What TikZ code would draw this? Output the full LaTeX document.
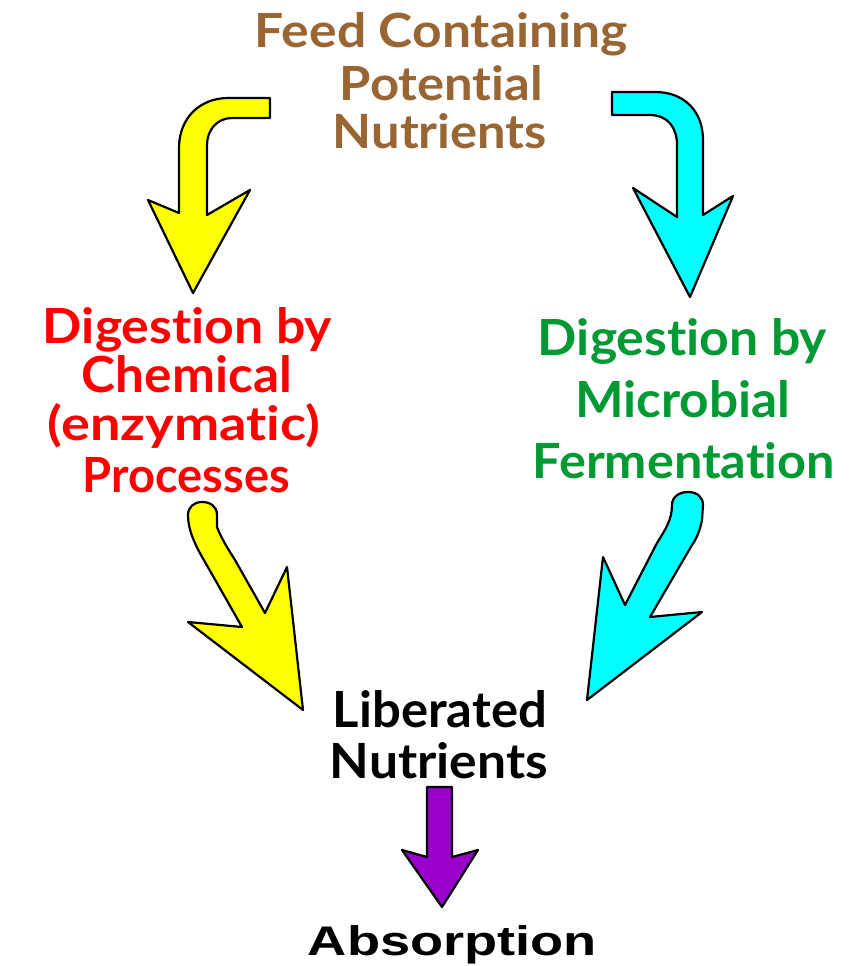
\documentclass[tikz,border=0pt]{standalone}
\usepackage{fontspec}
\setmainfont{Lato}[Ligatures={NoCommon}]
\newfontfamily\blackfont{Liberation Sans}
\usepackage{graphicx}
\definecolor{brownT}{HTML}{996633}
\definecolor{greenT}{HTML}{009933}
\definecolor{purp}{HTML}{9900CC}
\definecolor{yel}{HTML}{FFFF00}
\definecolor{cya}{HTML}{00FFFF}
\newcommand{\fitt}[3]{\resizebox{#1pt}{#2pt}{#3}}
\begin{document}
\begin{tikzpicture}[x=1pt,y=-1pt,
  txt/.style={inner sep=0pt, outer sep=0pt, anchor=base, font=\bfseries},
  blockarrow/.style={draw=black, line width=2.2pt, line join=round}]
\useasboundingbox[fill=white] (0,0) rectangle (864,966);

% ---------- texts ----------
\node[txt, text=brownT] (feedA) at (441.5,48) {\fitt{373}{35}{Feed Containing}};
\node[txt, text=brownT] (feedB) at (441.5,100) {\fitt{203}{35}{Potential}};
\node[txt, text=brownT] (feedC) at (440,148) {\fitt{214}{35}{Nutrients}};

\node[txt, text=red] (chemA) at (187.5,343) {\fitt{289}{36}{Digestion by}};
\node[txt, text=red] (chemB) at (187,392) {\fitt{210}{37}{Chemical}};
\node[txt, text=red] (chemC) at (184,440) {\fitt{272}{37}{(enzymatic)}};
\node[txt, text=red] (chemD) at (186.5,492) {\fitt{207}{35}{Processes}};

\node[txt, text=greenT] (micA) at (682.5,355) {\fitt{289}{37}{Digestion by}};
\node[txt, text=greenT] (micB) at (682.5,417) {\fitt{215}{37}{Microbial}};
\node[txt, text=greenT] (micC) at (684,478) {\fitt{302}{36}{Fermentation}};

\node[txt, text=black] (libA) at (440,727) {\fitt{214}{37}{Liberated}};
\node[txt, text=black] (libB) at (439,778) {\fitt{218}{36}{Nutrients}};

\node[txt, text=black, font=\blackfont\bfseries] (abs) at (452.5,955) {\fitt{289}{30}{Absorption}};

% ---------- arrows ----------
% yellow top
\filldraw[blockarrow, fill=yel]
  (270,98) -- (228,98) .. controls (200,98) and (179,118) .. (179,148)
  -- (179,213) -- (148,200) -- (193,293) -- (250,190) -- (207,215)
  -- (207,145) .. controls (207,130) and (217,118) .. (232,118)
  -- (270,118) -- cycle;

% cyan top
\filldraw[blockarrow, fill=cya]
  (612,92) -- (655,92) .. controls (685,92) and (703,112) .. (703,140)
  -- (703,215) -- (733,196) -- (690,297) -- (633,188) -- (677,217)
  -- (677,145) .. controls (677,128) and (668,115) .. (650,115)
  -- (612,115) -- cycle;

% yellow bottom
\filldraw[blockarrow, fill=yel]
  (202,502) .. controls (210,502) and (217,506) .. (217,515)
  -- (217,527) .. controls (222,540) and (230,552) .. (235,560)
  -- (265,613) -- (287,567) -- (303,710) -- (188,622) -- (242,627)
  -- (205,562) .. controls (195,545) and (188,530) .. (188,515)
  .. controls (188,507) and (194,502) .. (202,502) -- cycle;

% cyan bottom
\filldraw[blockarrow, fill=cya]
  (688,492) .. controls (697,492) and (703,497) .. (703,505)
  -- (702,520) .. controls (700,530) and (697,538) .. (692,545)
  -- (650,617) -- (702,612) -- (587,700) -- (603,557) -- (625,605)
  -- (657,543) .. controls (665,530) and (672,520) .. (672,505)
  .. controls (672,497) and (679,492) .. (688,492) -- cycle;

% purple
\filldraw[blockarrow, fill=purp]
  (427,787) -- (452,787) -- (452,857) -- (478,850) -- (442,907)
  -- (402,850) -- (427,857) -- cycle;
\end{tikzpicture}
\end{document}
